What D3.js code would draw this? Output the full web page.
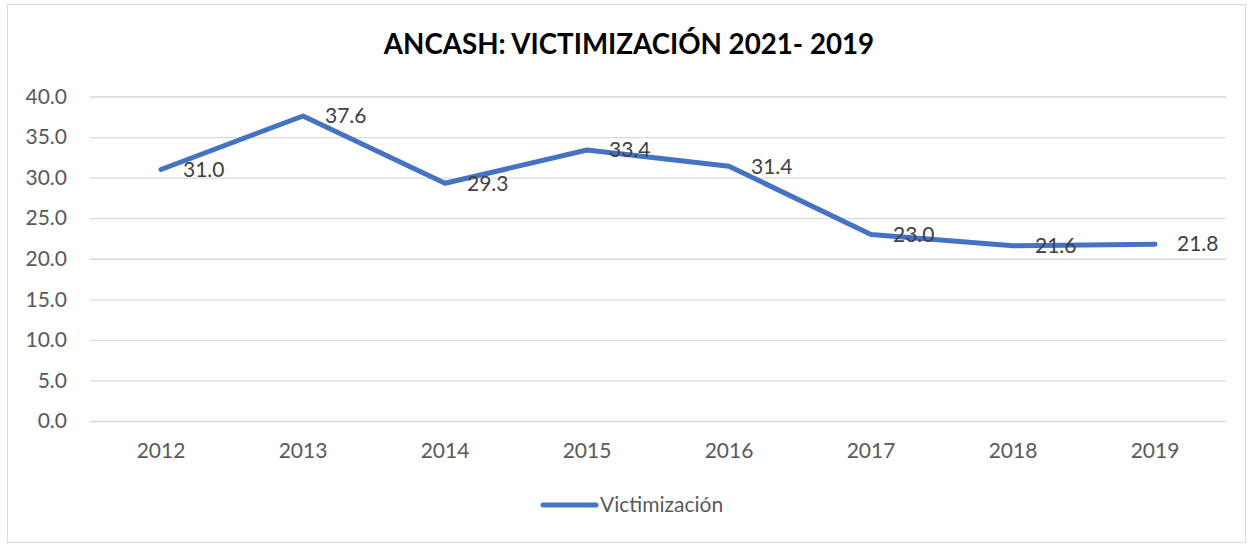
<!DOCTYPE html>
<html>
<head>
<meta charset="utf-8">
<script src="https://cdn.jsdelivr.net/npm/d3@7"></script>
<style>
  body { margin: 0; background: #fff; }
  text { font-family: Lato, "Open Sans", sans-serif; }
</style>
</head>
<body>
<div class="canvas"></div>
<script>
// data
const years = ["2012", "2013", "2014", "2015", "2016", "2017", "2018", "2019"];
const victimizacion = [31.0, 37.6, 29.3, 33.4, 31.4, 23.0, 21.6, 21.8];
const yTicks = [0, 5, 10, 15, 20, 25, 30, 35, 40];
const seriesName = "Victimización";
const chartTitle = "ANCASH: VICTIMIZACIÓN 2021- 2019";

const landScape = { width: 1251, height: 544 };
const margin = { top: 96.5, right: 25, bottom: 123, left: 90 };
const graphWidth = landScape.width - margin.left - margin.right;
const graphHeight = landScape.height - margin.top - margin.bottom;
const fontSize = 21;

const svg = d3
  .select(".canvas")
  .append("svg")
  .attr("width", landScape.width)
  .attr("height", landScape.height);

// chart border
svg.append("rect")
  .attr("x", 7.5).attr("y", 4.5)
  .attr("width", 1238).attr("height", 538)
  .attr("fill", "#fff")
  .attr("stroke", "#d9d9d9")
  .attr("stroke-width", 1);

// title
svg.append("text")
  .attr("x", 629)
  .attr("y", 54)
  .attr("text-anchor", "middle")
  .attr("font-size", 27.7)
  .attr("font-weight", "bold")
  .attr("fill", "#000")
  .text(chartTitle);

const graph = svg
  .append("g")
  .attr("transform", `translate(${margin.left}, ${margin.top})`);

//scales
const yScale = d3.scaleLinear().domain([0, 40]).range([graphHeight, 0]);
const xScale = d3.scaleBand().domain(years).range([0, graphWidth]).padding(0);
const cx = d => xScale(d) + xScale.bandwidth() / 2;

//axes
const yAxis = d3.axisLeft(yScale)
  .tickValues(yTicks)
  .tickSize(-graphWidth)
  .tickPadding(23)
  .tickFormat(d3.format(".1f"));
const yAxisGroup = graph.append("g").call(yAxis);
yAxisGroup.select(".domain").remove();
yAxisGroup.selectAll("line").attr("stroke", "#d9d9d9").attr("stroke-width", 1.3);
yAxisGroup.selectAll("text")
  .attr("font-size", fontSize)
  .attr("fill", "#595959")
  .attr("font-family", "Lato, sans-serif");

const xAxis = d3.axisBottom(xScale).tickSize(0).tickPadding(22);
const xAxisGroup = graph.append("g")
  .attr("transform", `translate(0, ${graphHeight})`)
  .call(xAxis);
xAxisGroup.select(".domain").remove();
xAxisGroup.selectAll("text")
  .attr("font-size", fontSize)
  .attr("fill", "#595959")
  .attr("font-family", "Lato, sans-serif");

// line
const line = d3.line()
  .x((d, i) => cx(years[i]))
  .y(d => yScale(d));

graph.append("path")
  .datum(victimizacion)
  .attr("fill", "none")
  .attr("stroke", "#4472c4")
  .attr("stroke-width", 5)
  .attr("stroke-linejoin", "round")
  .attr("stroke-linecap", "round")
  .attr("d", line);

// data labels
graph.selectAll(".lbl")
  .data(victimizacion)
  .enter()
  .append("text")
  .attr("class", "lbl")
  .attr("x", (d, i) => cx(years[i]) + 22)
  .attr("y", d => yScale(d))
  .attr("dy", "0.35em")
  .attr("font-size", fontSize)
  .attr("fill", "#404040")
  .text(d => d.toFixed(1));

// legend
const legend = svg.append("g").attr("transform", "translate(543, 505)");
legend.append("line")
  .attr("x1", 0).attr("x2", 53)
  .attr("stroke", "#4472c4")
  .attr("stroke-width", 5)
  .attr("stroke-linecap", "round");
legend.append("text")
  .attr("x", 57)
  .attr("dy", "0.35em")
  .attr("font-size", fontSize)
  .attr("fill", "#595959")
  .text(seriesName);
</script>
</body>
</html>
